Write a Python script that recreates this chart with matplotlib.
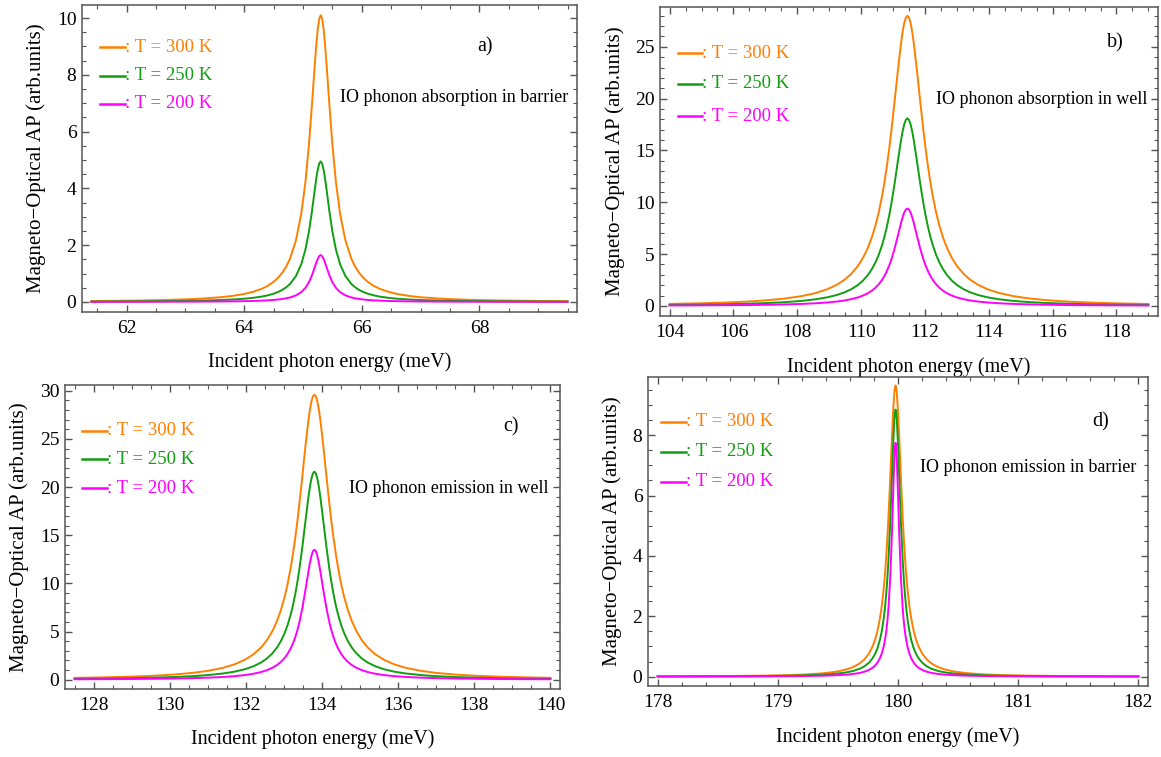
import matplotlib.pyplot as plt
from matplotlib.ticker import MultipleLocator

plt.rcParams['font.family'] = ['Liberation Serif', 'DejaVu Serif']

# ---- DATA ----
temps = ["300", "250", "200"]
colors = ["#FF8000", "#119E11", "#FF00FF"]

# a) IO phonon absorption in barrier
xa = [61.4, 61.85, 62.3, 62.65, 63.0, 63.3, 63.6, 63.8, 64.0, 64.15, 64.3, 64.4, 64.5, 64.58, 64.65, 64.72,
      64.78, 64.88, 64.97, 65.04, 65.1, 65.15, 65.2, 65.225, 65.25, 65.275, 65.3,
      65.325, 65.35, 65.375, 65.4, 65.45, 65.5, 65.56, 65.63, 65.72, 65.82, 65.88, 65.95, 66.02, 66.1, 66.2, 66.3,
      66.45, 66.6, 66.8, 67.0, 67.3, 67.6, 67.95, 68.3, 68.9, 69.5]
ya_300 = [0.032, 0.041, 0.054, 0.069, 0.092, 0.121, 0.166, 0.213, 0.281, 0.357, 0.466, 0.569, 0.710, 0.862, 1.038, 1.270,
          1.533, 2.175, 3.108, 4.214, 5.530, 6.895, 8.371, 9.049, 9.604, 9.97, 10.1,
          9.97, 9.604, 9.049, 8.371, 6.895, 5.530, 4.214, 3.108, 2.175, 1.533, 1.270, 1.038, 0.862, 0.710, 0.569, 0.466,
          0.357, 0.281, 0.213, 0.166, 0.121, 0.092, 0.069, 0.054, 0.038, 0.028]
ya_250 = [0.013, 0.017, 0.022, 0.028, 0.037, 0.049, 0.068, 0.086, 0.114, 0.145, 0.190, 0.233, 0.291, 0.355, 0.428, 0.526,
          0.638, 0.915, 1.330, 1.840, 2.475, 3.168, 3.960, 4.340, 4.659, 4.874, 4.95,
          4.874, 4.659, 4.340, 3.960, 3.168, 2.475, 1.840, 1.330, 0.915, 0.638, 0.526, 0.428, 0.355, 0.291, 0.233, 0.190,
          0.145, 0.114, 0.086, 0.068, 0.049, 0.037, 0.028, 0.022, 0.015, 0.011]
ya_200 = [0.003, 0.004, 0.005, 0.007, 0.009, 0.012, 0.016, 0.021, 0.028, 0.035, 0.046, 0.057, 0.071, 0.087, 0.106, 0.131,
          0.159, 0.232, 0.346, 0.494, 0.692, 0.928, 1.226, 1.381, 1.519, 1.615, 1.65,
          1.615, 1.519, 1.381, 1.226, 0.928, 0.692, 0.494, 0.346, 0.232, 0.159, 0.131, 0.106, 0.087, 0.071, 0.057, 0.046,
          0.035, 0.028, 0.021, 0.016, 0.012, 0.009, 0.007, 0.005, 0.004, 0.003]

# b) IO phonon absorption in well
xb = [104.0, 104.95, 105.85, 106.45, 107.05, 107.65, 108.15, 108.6, 108.95, 109.25, 109.5, 109.7, 109.9, 110.05,
      110.2, 110.33, 110.45, 110.55, 110.65, 110.73, 110.8, 110.88, 110.95, 111.05, 111.15, 111.25, 111.3, 111.35,
      111.4, 111.45, 111.5,
      111.55, 111.6, 111.65, 111.75, 111.85, 111.95, 112.02, 112.1, 112.17, 112.25, 112.35, 112.45, 112.57, 112.7,
      112.85, 113.0, 113.2, 113.4, 113.65, 113.95, 114.3, 114.75, 115.25, 115.85, 116.45, 117.05, 117.95, 119.0]
yb_300 = [0.193, 0.252, 0.339, 0.424, 0.545, 0.726, 0.955, 1.265, 1.622, 2.060, 2.571, 3.123, 3.861, 4.591,
          5.527, 6.568, 7.776, 9.011, 10.51, 11.92, 13.34, 15.17, 16.97, 19.77, 22.69, 25.36, 26.45, 27.29,
          27.82, 28.0, 27.82,
          27.29, 26.45, 25.36, 22.69, 19.77, 16.97, 15.17, 13.34, 11.92, 10.51, 9.011, 7.776, 6.568, 5.527,
          4.591, 3.861, 3.123, 2.571, 2.060, 1.622, 1.265, 0.955, 0.726, 0.545, 0.424, 0.339, 0.252, 0.188]
yb_250 = [0.098, 0.129, 0.173, 0.216, 0.278, 0.371, 0.489, 0.650, 0.836, 1.065, 1.334, 1.627, 2.024, 2.420,
          2.936, 3.517, 4.203, 4.922, 5.810, 6.670, 7.551, 8.727, 9.910, 11.84, 13.95, 15.99, 16.85, 17.52,
          17.95, 18.1, 17.95,
          17.52, 16.85, 15.99, 13.95, 11.84, 9.910, 8.727, 7.551, 6.670, 5.810, 4.922, 4.203, 3.517, 2.936,
          2.420, 2.024, 1.627, 1.334, 1.065, 0.836, 0.650, 0.489, 0.371, 0.278, 0.216, 0.173, 0.129, 0.096]
yb_200 = [0.039, 0.051, 0.069, 0.086, 0.111, 0.148, 0.195, 0.259, 0.334, 0.427, 0.537, 0.658, 0.823, 0.989,
          1.208, 1.459, 1.761, 2.082, 2.488, 2.892, 3.317, 3.900, 4.508, 5.548, 6.760, 8.010, 8.564, 9.009,
          9.299, 9.4, 9.299,
          9.009, 8.564, 8.010, 6.760, 5.548, 4.508, 3.900, 3.317, 2.892, 2.488, 2.082, 1.761, 1.459, 1.208,
          0.989, 0.823, 0.658, 0.537, 0.427, 0.334, 0.259, 0.195, 0.148, 0.111, 0.086, 0.069, 0.051, 0.038]

# c) IO phonon emission in well
xc = [127.5, 128.3, 128.9, 129.55, 130.1, 130.6, 131.0, 131.4, 131.7, 131.97, 132.2, 132.4, 132.55, 132.7,
      132.82, 132.92, 133.02, 133.1, 133.18, 133.24, 133.3, 133.35, 133.4, 133.48, 133.56, 133.64, 133.68, 133.72,
      133.76, 133.8, 133.84,
      133.88, 133.92, 133.96, 134.04, 134.12, 134.2, 134.25, 134.3, 134.36, 134.42, 134.5, 134.58, 134.68, 134.78,
      134.9, 135.05, 135.2, 135.4, 135.63, 135.9, 136.2, 136.6, 137.0, 137.5, 138.05, 138.7, 139.3, 140.0]
yc_300 = [0.185, 0.243, 0.305, 0.404, 0.531, 0.705, 0.915, 1.231, 1.588, 2.056, 2.634, 3.348, 4.082, 5.068,
          6.112, 7.224, 8.620, 10.00, 11.67, 13.13, 14.80, 16.35, 18.05, 21.00, 24.06, 26.85, 27.99, 28.86,
          29.41, 29.6, 29.41,
          28.86, 27.99, 26.85, 24.06, 21.00, 18.05, 16.35, 14.80, 13.13, 11.67, 10.00, 8.620, 7.224, 6.112,
          5.068, 4.082, 3.348, 2.634, 2.056, 1.588, 1.231, 0.915, 0.705, 0.531, 0.404, 0.305, 0.243, 0.191]
yc_250 = [0.096, 0.125, 0.158, 0.209, 0.275, 0.366, 0.475, 0.642, 0.831, 1.081, 1.392, 1.784, 2.190, 2.748,
          3.352, 4.007, 4.856, 5.718, 6.795, 7.776, 8.936, 10.06, 11.33, 13.67, 16.28, 18.86, 19.97, 20.84,
          21.41, 21.6, 21.41,
          20.84, 19.97, 18.86, 16.28, 13.67, 11.33, 10.06, 8.936, 7.776, 6.795, 5.718, 4.856, 4.007, 3.352,
          2.748, 2.190, 1.784, 1.392, 1.081, 0.831, 0.642, 0.475, 0.366, 0.275, 0.209, 0.158, 0.125, 0.099]
yc_200 = [0.042, 0.054, 0.069, 0.091, 0.120, 0.160, 0.208, 0.281, 0.365, 0.476, 0.617, 0.794, 0.981, 1.241,
          1.527, 1.844, 2.263, 2.700, 3.263, 3.792, 4.440, 5.088, 5.854, 7.353, 9.183, 11.17, 12.08, 12.83,
          13.33, 13.5, 13.33,
          12.83, 12.08, 11.17, 9.183, 7.353, 5.854, 5.088, 4.440, 3.792, 3.263, 2.700, 2.263, 1.844, 1.527,
          1.241, 0.981, 0.794, 0.617, 0.476, 0.365, 0.281, 0.208, 0.160, 0.120, 0.091, 0.069, 0.054, 0.043]

# d) IO phonon emission in barrier
xd = [178.0, 178.33, 178.63, 178.88, 179.08, 179.23, 179.38, 179.48, 179.56, 179.62, 179.68, 179.72, 179.76, 179.79,
      179.81, 179.83, 179.85, 179.865, 179.88, 179.89, 179.9, 179.91, 179.92, 179.935, 179.95, 179.96, 179.97,
      179.975, 179.98, 179.985,
      179.99, 180.0, 180.01, 180.025, 180.04, 180.05, 180.06, 180.07, 180.08, 180.095, 180.11, 180.13, 180.15, 180.17,
      180.2, 180.24, 180.28, 180.34, 180.4, 180.48, 180.58, 180.73, 180.88, 181.08, 181.33, 181.63, 182.0]
yd_300 = [0.010, 0.015, 0.022, 0.034, 0.050, 0.072, 0.112, 0.160, 0.226, 0.305, 0.433, 0.568, 0.775, 1.011,
          1.230, 1.526, 1.930, 2.336, 2.866, 3.308, 3.837, 4.468, 5.210, 6.523, 7.955, 8.815, 9.427,
          9.593, 9.65, 9.593,
          9.427, 8.815, 7.955, 6.523, 5.210, 4.468, 3.837, 3.308, 2.866, 2.336, 1.930, 1.526, 1.230, 1.011,
          0.775, 0.568, 0.433, 0.305, 0.226, 0.160, 0.112, 0.072, 0.050, 0.034, 0.022, 0.015, 0.010]
yd_250 = [0.006, 0.009, 0.013, 0.020, 0.029, 0.042, 0.066, 0.095, 0.134, 0.181, 0.258, 0.340, 0.468, 0.617,
          0.757, 0.950, 1.220, 1.502, 1.883, 2.215, 2.628, 3.147, 3.796, 5.060, 6.640, 7.709, 8.534,
          8.769, 8.85, 8.769,
          8.534, 7.709, 6.640, 5.060, 3.796, 3.147, 2.628, 2.215, 1.883, 1.502, 1.220, 0.950, 0.757, 0.617,
          0.468, 0.340, 0.258, 0.181, 0.134, 0.095, 0.066, 0.042, 0.029, 0.020, 0.013, 0.009, 0.006]
yd_200 = [0.003, 0.004, 0.006, 0.009, 0.014, 0.020, 0.031, 0.045, 0.063, 0.085, 0.122, 0.162, 0.225, 0.298,
          0.369, 0.467, 0.610, 0.763, 0.978, 1.173, 1.427, 1.764, 2.219, 3.226, 4.774, 6.069, 7.248,
          7.618, 7.75, 7.618,
          7.248, 6.069, 4.774, 3.226, 2.219, 1.764, 1.427, 1.173, 0.978, 0.763, 0.610, 0.467, 0.369, 0.298,
          0.225, 0.162, 0.122, 0.085, 0.063, 0.045, 0.031, 0.020, 0.014, 0.009, 0.006, 0.004, 0.003]

xlabel = "Incident photon energy (meV)"
ylabel = "Magneto\u2212Optical AP (arb.units)"

# ---- FIGURE ----
fig = plt.figure(figsize=(11.61, 7.57), dpi=100)

FRAME = "#555555"


def panel(rect, x, ys, xlim, ylim, xstep, ystep, tag, note,
          leg_x, leg_y, tag_pos, note_pos, ylab_x):
    ax = fig.add_axes(rect)
    for y, c in zip(ys, colors):
        ax.plot(x, y, color=c, lw=1.4, solid_joinstyle="round")
    ax.set_xlim(*xlim)
    ax.set_ylim(*ylim)
    ax.xaxis.set_major_locator(MultipleLocator(xstep[0]))
    ax.xaxis.set_minor_locator(MultipleLocator(xstep[1]))
    ax.yaxis.set_major_locator(MultipleLocator(ystep[0]))
    ax.yaxis.set_minor_locator(MultipleLocator(ystep[1]))
    ax.tick_params(which="both", direction="in", top=True, right=True,
                   color=FRAME, labelsize=14)
    ax.tick_params(which="major", length=5, width=1)
    ax.tick_params(which="minor", length=2.8, width=0.8)
    ax.tick_params(axis="x", pad=6)
    ax.tick_params(axis="y", pad=4)
    for s in ax.spines.values():
        s.set_color(FRAME)
        s.set_linewidth(1.1)

    ax.set_xlabel(xlabel, fontsize=14.5)
    ax.xaxis.label.set_va("center")
    ax.xaxis.set_label_coords(0.5, -0.165)
    ax.set_ylabel(ylabel, fontsize=15)
    ax.yaxis.label.set_va("center")
    ax.yaxis.set_label_coords(ylab_x, 0.5)

    # hand-made legend: short line + coloured text
    for t, c, ly in zip(temps, colors, leg_y):
        ax.plot([leg_x[0], leg_x[1]], [ly, ly], color=c, lw=1.8,
                transform=ax.transAxes)
        ax.text(leg_x[1], ly, ": T = %s K" % t, color=c, fontsize=13.5,
                va="center", ha="left", transform=ax.transAxes)

    ax.text(tag_pos[0], tag_pos[1], tag, fontsize=14.5, va="center",
            ha="center", transform=ax.transAxes)
    ax.text(note_pos[0], note_pos[1], note, fontsize=13, va="center",
            ha="left", transform=ax.transAxes)
    return ax


panel([0.0706, 0.588, 0.4264, 0.4054], xa, [ya_300, ya_250, ya_200],
      (61.24, 69.66), (-0.35, 10.46), (2, 0.5), (2, 0.5),
      "a)", "IO phonon absorption in barrier",
      (0.036, 0.087), (0.863, 0.769, 0.678), (0.815, 0.863), (0.521, 0.70),
      -0.093)

panel([0.5685, 0.5826, 0.4289, 0.4082], xb, [yb_300, yb_250, yb_200],
      (103.7, 119.3), (-0.97, 28.85), (2, 0.5), (5, 1),
      "b)", "IO phonon absorption in well",
      (0.036, 0.084), (0.851, 0.751, 0.647), (0.914, 0.883), (0.554, 0.699),
      -0.09)

panel([0.056, 0.0898, 0.4263, 0.4016], xc, [yc_300, yc_250, yc_200],
      (127.25, 140.25), (-0.97, 30.6), (2, 0.5), (5, 1),
      "c)", "IO phonon emission in well",
      (0.034, 0.085), (0.85, 0.756, 0.66), (0.902, 0.863), (0.573, 0.66),
      -0.093)

panel([0.5581, 0.0938, 0.4307, 0.4082], xd, [yd_300, yd_250, yd_200],
      (177.92, 182.08), (-0.31, 9.93), (1, 0.2), (2, 0.5),
      "d)", "IO phonon emission in barrier",
      (0.027, 0.076), (0.855, 0.758, 0.661), (0.906, 0.855), (0.544, 0.708),
      -0.072)

fig.savefig("out.png", dpi=100)
